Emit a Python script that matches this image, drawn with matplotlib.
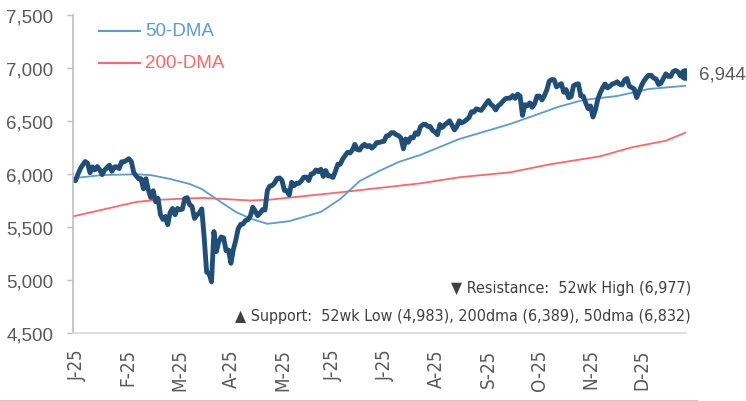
import numpy as np
import matplotlib
matplotlib.use("Agg")
import matplotlib.pyplot as plt
from matplotlib.lines import Line2D

# daily closes, mid-Jan 2025 to mid-Jan 2026
close = [
    5949, 5937, 5996, 6049, 6086, 6118, 6101, 6012, 6067, 6039, 6071, 6040,
    5994, 6037, 6061, 6083, 6026, 6066, 6068, 6051, 6115, 6114, 6129, 6144,
    6118, 6013, 5983, 5955, 5956, 5861, 5955,
    5849, 5778, 5842, 5738, 5770, 5615, 5572, 5599, 5522, 5639, 5675, 5615,
    5675, 5663, 5668, 5768, 5777, 5712, 5693, 5581, 5612,
    5633, 5671, 5397, 5074, 5062, 4983, 5457, 5268, 5363, 5406, 5397, 5276,
    5283, 5158, 5288, 5376, 5485, 5525, 5529, 5561, 5569,
    5604, 5687, 5650, 5607, 5631, 5664, 5660, 5844, 5886, 5892, 5917, 5958,
    5963, 5940, 5845, 5842, 5802, 5922, 5889, 5912, 5912,
    5936, 5970, 5971, 5939, 6000, 6006, 6038, 6022, 6045, 5977, 6033, 5982,
    5981, 5967, 6025, 6092, 6092, 6141, 6173, 6205,
    6198, 6227, 6279, 6230, 6226, 6263, 6280, 6259, 6269, 6244, 6264, 6297,
    6297, 6305, 6309, 6359, 6363, 6389, 6390, 6371, 6362, 6339,
    6238, 6330, 6299, 6345, 6340, 6389, 6374, 6446, 6466, 6469, 6450, 6449,
    6411, 6396, 6370, 6467, 6439, 6465, 6481, 6502, 6460,
    6416, 6448, 6502, 6482, 6495, 6512, 6532, 6587, 6584, 6615, 6607, 6600,
    6631, 6664, 6693, 6656, 6638, 6605, 6644, 6661, 6688,
    6711, 6715, 6716, 6740, 6714, 6753, 6735, 6553, 6654, 6644, 6671, 6630,
    6664, 6735, 6735, 6699, 6738, 6792, 6875, 6891, 6890, 6822, 6840,
    6852, 6771, 6796, 6720, 6729, 6832, 6846, 6851, 6737, 6734, 6672, 6617,
    6642, 6538, 6603, 6705, 6766, 6813, 6849,
    6812, 6829, 6849, 6857, 6870, 6846, 6840, 6887, 6901, 6827, 6816, 6800,
    6721, 6775, 6835, 6878, 6910, 6932, 6930, 6905, 6896, 6845,
    6858, 6902, 6945, 6921, 6921, 6966, 6977, 6964, 6927, 6950, 6944,
]

# moving averages sampled from the chart (trading-day index, level)
dma50_idx = [0, 12, 26, 32, 40, 48, 53, 59, 67, 73, 80, 89, 102, 110, 118,
             126, 134, 143, 159, 180, 200, 210, 224, 237, 252]
dma50 = [5960, 5990, 5997, 5990, 5953, 5906, 5858, 5764, 5642, 5580, 5530,
         5555, 5642, 5764, 5934, 6028, 6113, 6180, 6330, 6472, 6635, 6698,
         6736, 6802, 6832]
dma200_idx = [0, 12, 26, 34, 48, 54, 62, 73, 81, 110, 143, 159, 180, 196,
              217, 230, 244, 252]
dma200 = [5600, 5663, 5736, 5755, 5770, 5774, 5764, 5750, 5758, 5827, 5912,
          5969, 6016, 6090, 6167, 6252, 6314, 6389]

month_labels = ["J-25", "F-25", "M-25", "A-25", "M-25", "J-25", "J-25",
                "A-25", "S-25", "O-25", "N-25", "D-25"]

NAVY = "#1F4E79"
BLUE = "#5B9BD5"
RED = "#FF6666"
GREY = "#595959"
NARROW = dict(family=["DejaVu Sans"], fontstretch="condensed")

plt.rcParams["font.family"] = ["Liberation Sans", "DejaVu Sans"]

fig = plt.figure(figsize=(7.46, 4.02), dpi=100)
ax = fig.add_axes([73 / 746, 1 - 334 / 402, 613 / 746, 318 / 402])

x = np.arange(len(close))
ax.plot(dma200_idx, dma200, color=RED, lw=1.3, solid_joinstyle="round")
ax.plot(dma50_idx, dma50, color=BLUE, lw=1.3, solid_joinstyle="round")
ax.plot(x, close, color=NAVY, lw=3.5, solid_joinstyle="round",
        solid_capstyle="round")
ax.plot(x[-1], close[-1], "o", color=NAVY, ms=8)
ax.annotate(f"{close[-1]:,}", (x[-1], close[-1]), xytext=(10, 0),
            textcoords="offset points", va="center", ha="left",
            fontsize=13.5, color=GREY, annotation_clip=False)

ax.set_xlim(0, 252.3)
ax.set_ylim(4500, 7500)
ax.set_yticks(np.arange(4500, 7501, 500))
ax.set_yticklabels([f"{v:,}" for v in range(4500, 7501, 500)])
ax.tick_params(axis="y", length=4, width=1, color="#BFBFBF", pad=10,
               labelsize=13.5, labelcolor=GREY)

ax.set_xticks(1.6 + 21.15 * np.arange(len(month_labels)))
ax.set_xticklabels(month_labels, rotation=90, fontsize=13.5, color=GREY,
                   **NARROW)
ax.tick_params(axis="x", length=0, pad=11)

for s in ["top", "right"]:
    ax.spines[s].set_visible(False)
ax.spines["left"].set_color("#BFBFBF")
ax.spines["bottom"].set_color("#D9D9D9")
ax.spines["left"].set_linewidth(1.2)
ax.spines["bottom"].set_linewidth(1.2)

# legend drawn as in the source: short line + coloured text
for yy, col, name in [(32, BLUE, "50-DMA"), (64, RED, "200-DMA")]:
    fy = 1 - yy / 402
    fig.add_artist(Line2D([99 / 746, 140 / 746], [fy, fy], color=col, lw=1.5))
    fig.text(145 / 746, fy, name, color=col, fontsize=13.5, va="center")

ax.text(1.0085, 0.142, "\u25BC Resistance:  52wk High (6,977)",
        transform=ax.transAxes, ha="right", va="center", fontsize=11.5,
        color="#404040", **NARROW)
ax.text(1.0085, 0.054,
        "\u25B2 Support:  52wk Low (4,983), 200dma (6,389), 50dma (6,832)",
        transform=ax.transAxes, ha="right", va="center", fontsize=11.5,
        color="#404040", **NARROW)

fig.add_artist(Line2D([0, 697 / 746], [0.5 / 402, 0.5 / 402],
                      color="#C8C8C8", lw=1.5))

fig.savefig("out.png", dpi=100)
